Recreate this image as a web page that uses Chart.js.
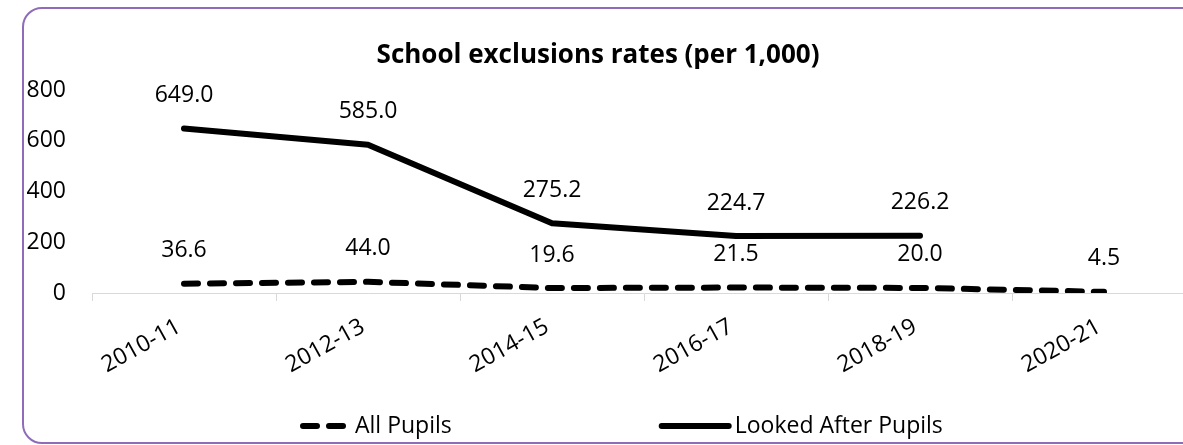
<!DOCTYPE html>
<html>
<head>
<meta charset="utf-8">
<script src="https://cdn.jsdelivr.net/npm/chart.js@4"></script>
<style>
  html, body { margin: 0; padding: 0; overflow: hidden; background: #fff; }
  #wrap { position: relative; width: 1183px; height: 445px; overflow: hidden; }
  #frame {
    position: absolute; left: 22px; top: 7px; width: 1200px; height: 437px;
    border: 2px solid #8f6cb9; border-radius: 20px; box-sizing: border-box;
  }
  #chart { position: absolute; left: 0; top: 0; }
</style>
</head>
<body>
<div id="wrap">
  <div id="frame"></div>
  <canvas id="chart" width="1200" height="445"></canvas>
</div>
<script>
  const years = ["2010-11", "2012-13", "2014-15", "2016-17", "2018-19", "2020-21"];
  const allPupils = [36.6, 44.0, 19.6, 21.5, 20.0, 4.5];
  const lookedAfter = [649.0, 585.0, 275.2, 224.7, 226.2, null];
  const yTicks = [0, 200, 400, 600, 800];

  const FONT = "'Open Sans', sans-serif";

  // value labels above each point
  const pointLabels = {
    id: "pointLabels",
    afterDatasetsDraw(chart) {
      const ctx = chart.ctx;
      ctx.save();
      ctx.font = "23px " + FONT;
      ctx.fillStyle = "#000";
      ctx.textAlign = "center";
      ctx.textBaseline = "middle";
      chart.data.datasets.forEach((ds, i) => {
        chart.getDatasetMeta(i).data.forEach((pt, j) => {
          if (ds.data[j] == null) return;
          ctx.fillText(ds.data[j].toFixed(1), pt.x, pt.y - 33);
        });
      });
      ctx.restore();
    }
  };

  // legend drawn along the bottom, Excel-style spacing
  const bottomLegend = {
    id: "bottomLegend",
    afterDraw(chart) {
      const ctx = chart.ctx;
      const y = chart.height - 19;
      const lens = [52, 73];
      let x = 300;
      ctx.save();
      ctx.font = "23px " + FONT;
      ctx.textBaseline = "middle";
      chart.data.datasets.forEach((ds, i) => {
        ctx.strokeStyle = ds.borderColor;
        ctx.lineWidth = ds.borderWidth;
        ctx.lineCap = "round";
        ctx.setLineDash(ds.borderDash || []);
        ctx.beginPath();
        ctx.moveTo(x + 3, y);
        ctx.lineTo(x + lens[i] - 3, y);
        ctx.stroke();
        ctx.setLineDash([]);
        ctx.fillStyle = "#000";
        ctx.fillText(ds.label, x + lens[i] + 3, y);
        x += lens[i] + 3 + ctx.measureText(ds.label).width + 207;
      });
      ctx.restore();
    }
  };

  new Chart(document.getElementById("chart"), {
    type: "line",
    data: {
      labels: years,
      datasets: [
        {
          label: "All Pupils",
          data: allPupils,
          borderColor: "#000",
          borderWidth: 6,
          borderDash: [14, 12],
          borderCapStyle: "round",
          pointRadius: 0,
          fill: false
        },
        {
          label: "Looked After Pupils",
          data: lookedAfter,
          borderColor: "#000",
          borderWidth: 6,
          borderCapStyle: "round",
          borderJoinStyle: "round",
          pointRadius: 0,
          fill: false
        }
      ]
    },
    options: {
      responsive: false,
      animation: false,
      layout: { padding: { left: 0, right: 4, top: 0, bottom: 40 } },
      plugins: {
        legend: { display: false },
        tooltip: { enabled: false },
        title: {
          display: true,
          text: "School exclusions rates (per 1,000)",
          color: "#000",
          font: { family: FONT, size: 26, weight: "bold" },
          padding: { top: 40, bottom: 19 }
        }
      },
      scales: {
        x: {
          offset: true,
          grid: {
            offset: true,
            drawOnChartArea: false,
            color: "#d9d9d9",
            tickLength: 8
          },
          border: { color: "#d9d9d9", width: 1 },
          ticks: {
            color: "#000",
            font: { family: FONT, size: 23 },
            minRotation: 29,
            maxRotation: 29,
            padding: 12,
            labelOffset: -5
          },
          afterFit(scale) { scale.height = 112; }
        },
        y: {
          min: 0,
          max: 800,
          grid: { display: false, drawTicks: false },
          border: { display: false },
          afterBuildTicks(scale) { scale.ticks = yTicks.map(v => ({ value: v })); },
          ticks: {
            color: "#000",
            font: { family: FONT, size: 23 },
            padding: 26
          },
          afterFit(scale) { scale.width = 92; }
        }
      }
    },
    plugins: [pointLabels, bottomLegend]
  });
</script>
</body>
</html>
